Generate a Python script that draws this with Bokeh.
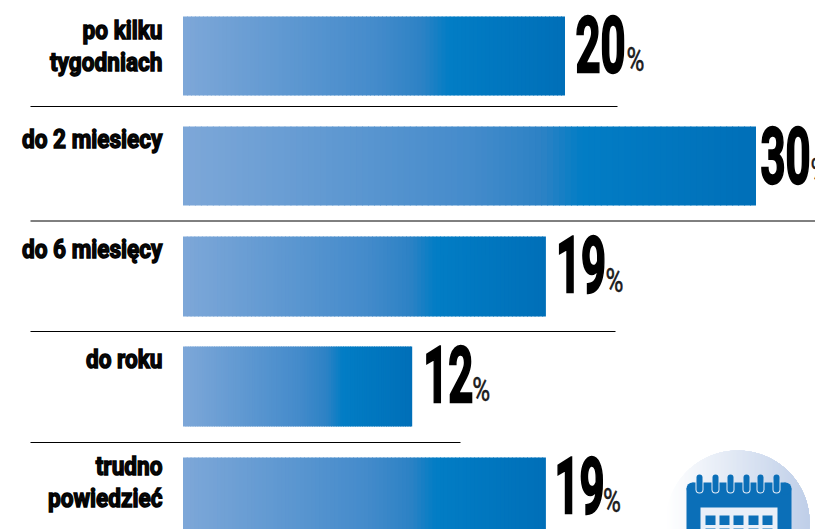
import numpy as np
from bokeh.core.properties import value
from bokeh.embed import file_html
from bokeh.events import DocumentReady
from bokeh.io import curdoc
from bokeh.models import CustomJS, Range1d
from bokeh.plotting import figure
from bokeh.resources import INLINE

# Survey answers and their shares in percent
labels = [["po kilku", "tygodniach"], ["do 2 miesiecy"], ["do 6 miesięcy"], ["do roku"], ["trudno", "powiedzieć"]]
shares = [20, 30, 19, 12, 19]

W, H = 815, 529
X0, PX = 182.5, 19.1

bar_tops = [16, 126, 236, 346, 457]
bar_bottoms = [95, 205, 316, 426, 537]
label_first_y = [29, 138, 248, 358, 465]
rule_y = [106, 220.5, 331, 442]
rule_end = [617, 815, 615, 460]
number_gap = [10.5, 4.5, 10, 11, 8.5]
percent_gap = [61.5, 54.5, 59.5, 60, 57]
number_base = [72, 183, 292.5, 402, 513]

GRAD = [(125, 167, 216), (68, 139, 203), (45, 130, 197), (2, 125, 197), (0, 111, 184)]
GRAD_POS = [0.0, 0.5, 0.62, 0.69, 1.0]
FONT = value("Roboto")

p = figure(width=W, height=H, output_backend="svg", toolbar_location=None,
           x_range=Range1d(0, W), y_range=Range1d(H, 0), min_border=0)
p.axis.visible = False
p.grid.visible = False
p.outline_line_color = None
p.background_fill_color = "white"
p.border_fill_color = "white"


def px(v):
    return X0 + v * PX


def hexcol(t):
    c = [int(round(np.interp(t, GRAD_POS, [g[i] for g in GRAD]))) for i in range(3)]
    return "#%02x%02x%02x" % tuple(c)


# Horizontal rules between rows
p.segment(x0=[30] * 4, x1=rule_end, y0=rule_y, y1=rule_y, line_color="#000000", line_width=1)

# Bars: thin strips overlapping their neighbour by a pixel give a left-to-right gradient
for share, top, bottom in zip(shares, bar_tops, bar_bottoms):
    edges = np.linspace(0, share, 97)
    lefts = px(edges[:-1])
    rights = np.minimum(px(edges[1:]) + 1, px(share))
    cols = [hexcol(e / share) for e in edges[:-1]]
    p.quad(left=lefts, right=rights, top=top, bottom=bottom, fill_color=cols, line_color=None)

# Category labels, right aligned against the bars
for lines, y in zip(labels, label_first_y):
    for i, line in enumerate(lines):
        p.text(x=[162], y=[y + i * 32], text=[line], text_font=FONT,
               text_font_style="bold", text_font_size="26px", text_align="right",
               text_baseline="middle", text_color="#0a0a0a")

# Percent values beside the bars
for share, gap, pgap, base in zip(shares, number_gap, percent_gap, number_base):
    p.text(x=[px(share) + gap], y=[base - 29], text=[str(share)], text_font=FONT,
           text_font_style="bold", text_font_size="78px", text_align="left",
           text_baseline="middle", text_color="black")
    p.text(x=[px(share) + pgap], y=[base - 13], text=["%"], text_font=FONT,
           text_font_size="34px", text_align="left", text_baseline="middle", text_color="#222222")

# Calendar badge: a disc fading to white on its left side
cx, cy, r = 737, 522, 72
for x in np.linspace(cx - r, cx + r, 72, endpoint=False):
    a0 = np.arccos((x - cx) / r)
    ang = np.linspace(-a0, a0, 60)
    t = (x - (cx - r)) / (2 * r)
    c = tuple(int(round(255 + (v - 255) * t)) for v in (190, 206, 232))
    p.patch(cx + r * np.cos(ang), cy + r * np.sin(ang), fill_color="#%02x%02x%02x" % c, line_color=None)

# Calendar body, paper and day cells
BLUE = "#0b6fb8"
p.quad(left=[686], right=[791], top=[488], bottom=[540], fill_color=BLUE, line_color=None)
p.quad(left=[692], right=[785], top=[482], bottom=[490], fill_color=BLUE, line_color=None)
p.circle(x=[692, 785], y=[488, 488], radius=6, fill_color=BLUE, line_color=None)
p.quad(left=[700], right=[777], top=[507], bottom=[540], fill_color="#e9eff8", line_color=None)
for cell_x in [705, 719, 733, 748, 762]:
    for cell_y in [515, 528]:
        p.quad(left=[cell_x], right=[cell_x + 10], top=[cell_y], bottom=[cell_y + 9.5],
               fill_color=BLUE, line_color=None)

# Binder rings
ring_x = [699, 715, 730, 746, 760, 776]
p.segment(x0=ring_x, x1=ring_x, y0=[482] * 6, y1=[489] * 6, line_color="#e6edf7", line_width=8, line_cap="round")
p.segment(x0=ring_x, x1=ring_x, y0=[477] * 6, y1=[489] * 6, line_color=BLUE, line_width=6, line_cap="round")

# The display face is a narrow heavy grotesque: squeeze each text about its anchor
squeeze = CustomJS(code="""
function walk(root, out) {
  root.querySelectorAll('*').forEach(el => {
    if (el.tagName.toLowerCase() === 'text') out.push(el);
    if (el.shadowRoot) walk(el.shadowRoot, out);
  });
  return out;
}
function apply() {
  walk(document, []).forEach(el => {
    if (el.dataset.narrow) return;
    el.dataset.narrow = '1';
    const s = el.textContent;
    const isPct = s === '%';
    const isNum = /^[0-9]+$/.test(s);
    const sx = isPct ? 0.72 : (isNum ? 0.56 : 0.87);
    const sw = isPct ? 0.5 : (isNum ? 2.4 : 1.4);
    let x = parseFloat(el.getAttribute('x')) || 0;
    if (!isPct && !isNum) x += el.getComputedTextLength();
    const prev = el.getAttribute('transform') || '';
    el.setAttribute('transform', `${prev} translate(${x},0) scale(${sx},1) translate(${-x},0)`);
    el.style.stroke = 'black';
    el.style.strokeWidth = sw;
  });
}
apply();
setInterval(apply, 40);
""")
doc = curdoc()
doc.add_root(p)
doc.js_on_event(DocumentReady, squeeze)

open("out.html", "w").write(file_html(p, INLINE))
